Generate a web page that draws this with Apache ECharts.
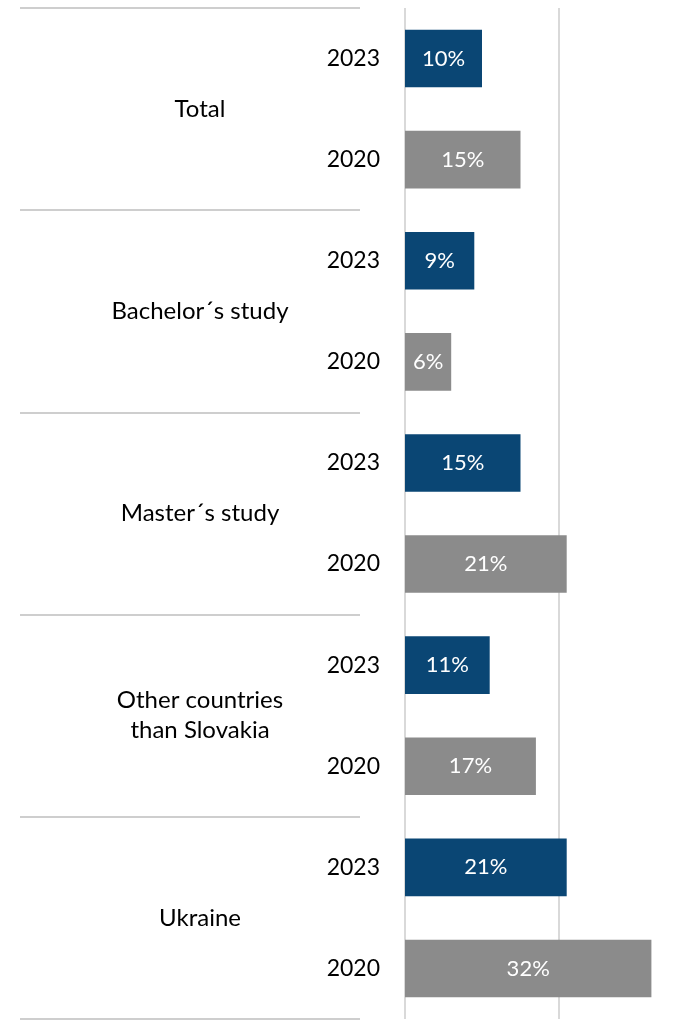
<!DOCTYPE html>
<html>
<head>
<meta charset="utf-8">
<script src="https://cdn.jsdelivr.net/npm/echarts@6/dist/echarts.min.js"></script>
<style>
  html, body { margin: 0; padding: 0; background: #fff; }
  #chart { width: 694px; height: 1021px; }
</style>
</head>
<body>
<div id="chart"></div>
<script>
// groups and rows, top to bottom
const groups = ['Total', 'Bachelor´s study', 'Master´s study', 'Other countries\nthan Slovakia', 'Ukraine']
const years = ['2023', '2020', '2023', '2020', '2023', '2020', '2023', '2020', '2023', '2020']
const values = [10, 15, 9, 6, 15, 21, 11, 17, 21, 32]
const yearColors = { '2023': '#0a4674', '2020': '#8b8b8b' }

const font = 'Lato, "Open Sans", sans-serif'

const chart = echarts.init(document.getElementById('chart'))

const option = {
  animation: false,
  grid: {
    left: 405,
    top: 8,
    width: 308,
    height: 1011,
    outerBoundsMode: 'none'
  },
  xAxis: {
    type: 'value',
    min: 0,
    max: 40,
    interval: 20,
    axisLabel: { show: false },
    axisLine: { show: false },
    axisTick: { show: false },
    splitLine: { lineStyle: { color: '#d9d9d9', width: 2 } }
  },
  yAxis: [
    {
      type: 'category',
      inverse: true,
      data: years,
      axisLine: { show: false },
      axisTick: { show: false },
      axisLabel: {
        margin: 25,
        color: '#000',
        fontSize: 23,
        fontFamily: font
      }
    },
    {
      // group labels + separator lines
      type: 'category',
      inverse: true,
      position: 'left',
      offset: 45,
      data: groups,
      axisLine: { show: false },
      axisTick: {
        show: true,
        length: 340,
        lineStyle: { color: '#bfbfbf', width: 1.5 }
      },
      axisLabel: {
        margin: 160,
        align: 'center',
        color: '#000',
        fontSize: 24,
        lineHeight: 30,
        fontFamily: font
      }
    }
  ],
  series: [
    {
      type: 'bar',
      yAxisIndex: 0,
      barWidth: '57%',
      data: values.map((v, i) => ({
        value: v,
        itemStyle: { color: yearColors[years[i]] }
      })),
      label: {
        show: true,
        position: 'inside',
        color: '#fff',
        fontSize: 22,
        fontFamily: font,
        formatter: p => p.value + '%'
      }
    }
  ]
}

chart.setOption(option)
</script>
</body>
</html>
